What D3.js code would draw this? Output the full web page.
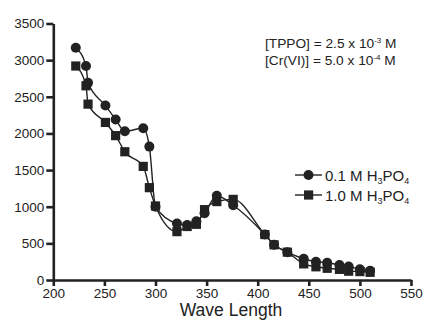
<!DOCTYPE html>
<html><head><meta charset="utf-8">
<script src="https://cdn.jsdelivr.net/npm/d3@7"></script>
<style>body{margin:0;background:#fff}svg{display:block}text{font-family:"Liberation Sans",Arial,sans-serif;fill:#222}</style>
</head><body><svg id="c" width="423" height="320"></svg>
<script>
const wavelengths = [222,232,234,251,261,270,288,294,300,321,331,340,348,360,376,407,416,429,445,457,468,480,489,500,510];
const series01 = [3170,2920,2690,2380,2190,2030,2070,1820,1000,770,750,800,910,1150,1020,620,480,380,290,250,235,205,185,145,125];
const series10 = [2920,2650,2400,2150,1970,1750,1550,1260,1010,660,730,760,960,1070,1100,620,480,380,220,180,160,145,120,115,105];
const xTicks = [200,250,300,350,400,450,500,550];
const yTicks = [0,500,1000,1500,2000,2500,3000,3500];
const legendLabels = ["0.1 M H", "1.0 M H"];

const svg = d3.select("#c");
const x = d3.scaleLinear().domain([200,550]).range([53.3,411]);
const y = d3.scaleLinear().domain([0,3500]).range([280,23.5]);
const ink = "#222";

const xa = svg.append("g").attr("transform","translate(0,280)")
  .call(d3.axisBottom(x).tickValues(xTicks).tickFormat(d3.format("d")).tickSize(6).tickPadding(2).tickSizeOuter(0));
const ya = svg.append("g").attr("transform","translate(53.3,0)")
  .call(d3.axisLeft(y).tickValues(yTicks).tickFormat(d3.format("d")).tickSize(7).tickPadding(2).tickSizeOuter(0));
[xa,ya].forEach(a=>{
  a.selectAll("path,line").attr("stroke",ink).attr("stroke-width",2.6);
  a.selectAll("text").attr("font-size",13.5).attr("fill",ink).style("font-family","Liberation Sans, Arial, sans-serif");
});

const line = d3.line().x(d=>x(d[0])).y(d=>y(d[1])).curve(d3.curveMonotoneX);
const d01 = wavelengths.map((w,i)=>[w,series01[i]]);
const d10 = wavelengths.map((w,i)=>[w,series10[i]]);
[d01,d10].forEach(d=>svg.append("path").attr("d",line(d)).attr("fill","none").attr("stroke",ink).attr("stroke-width",1.4));

svg.append("g").selectAll("rect").data(d10).join("rect")
  .attr("x",d=>x(d[0])-4.6).attr("y",d=>y(d[1])-4.6).attr("width",9.2).attr("height",9.2).attr("fill",ink);
svg.append("g").selectAll("circle").data(d01).join("circle")
  .attr("cx",d=>x(d[0])).attr("cy",d=>y(d[1])).attr("r",5).attr("fill",ink);

// legend
const lg = svg.append("g");
[0,1].forEach(i=>{
  const cy = 175 + i*20;
  lg.append("line").attr("x1",295).attr("x2",322).attr("y1",cy).attr("y2",cy).attr("stroke",ink).attr("stroke-width",1.4);
  if(i===0) lg.append("circle").attr("cx",308.5).attr("cy",cy).attr("r",5).attr("fill",ink);
  else lg.append("rect").attr("x",304).attr("y",cy-4.6).attr("width",9.2).attr("height",9.2).attr("fill",ink);
  const t = lg.append("text").attr("x",325).attr("y",cy+5.5).attr("font-size",15);
  t.append("tspan").text(legendLabels[i]);
  t.append("tspan").attr("font-size",9).attr("dy",3).text("3");
  t.append("tspan").attr("dy",-3).text("PO");
  t.append("tspan").attr("font-size",9).attr("dy",3).text("4");
});

// annotation
const a1 = svg.append("text").attr("x",265).attr("y",48).attr("font-size",13.7);
a1.append("tspan").text("[TPPO] = 2.5 x 10");
a1.append("tspan").attr("font-size",8).attr("dy",-5).text("-3");
a1.append("tspan").attr("dy",5).text(" M");
const a2 = svg.append("text").attr("x",265).attr("y",65).attr("font-size",13.7);
a2.append("tspan").text("[Cr(VI)] = 5.0 x 10");
a2.append("tspan").attr("font-size",8).attr("dy",-5).text("-4");
a2.append("tspan").attr("dy",5).text(" M");

svg.append("text").attr("x",231).attr("y",316).attr("text-anchor","middle").attr("font-size",17.5).text("Wave Length");
</script></body></html>
